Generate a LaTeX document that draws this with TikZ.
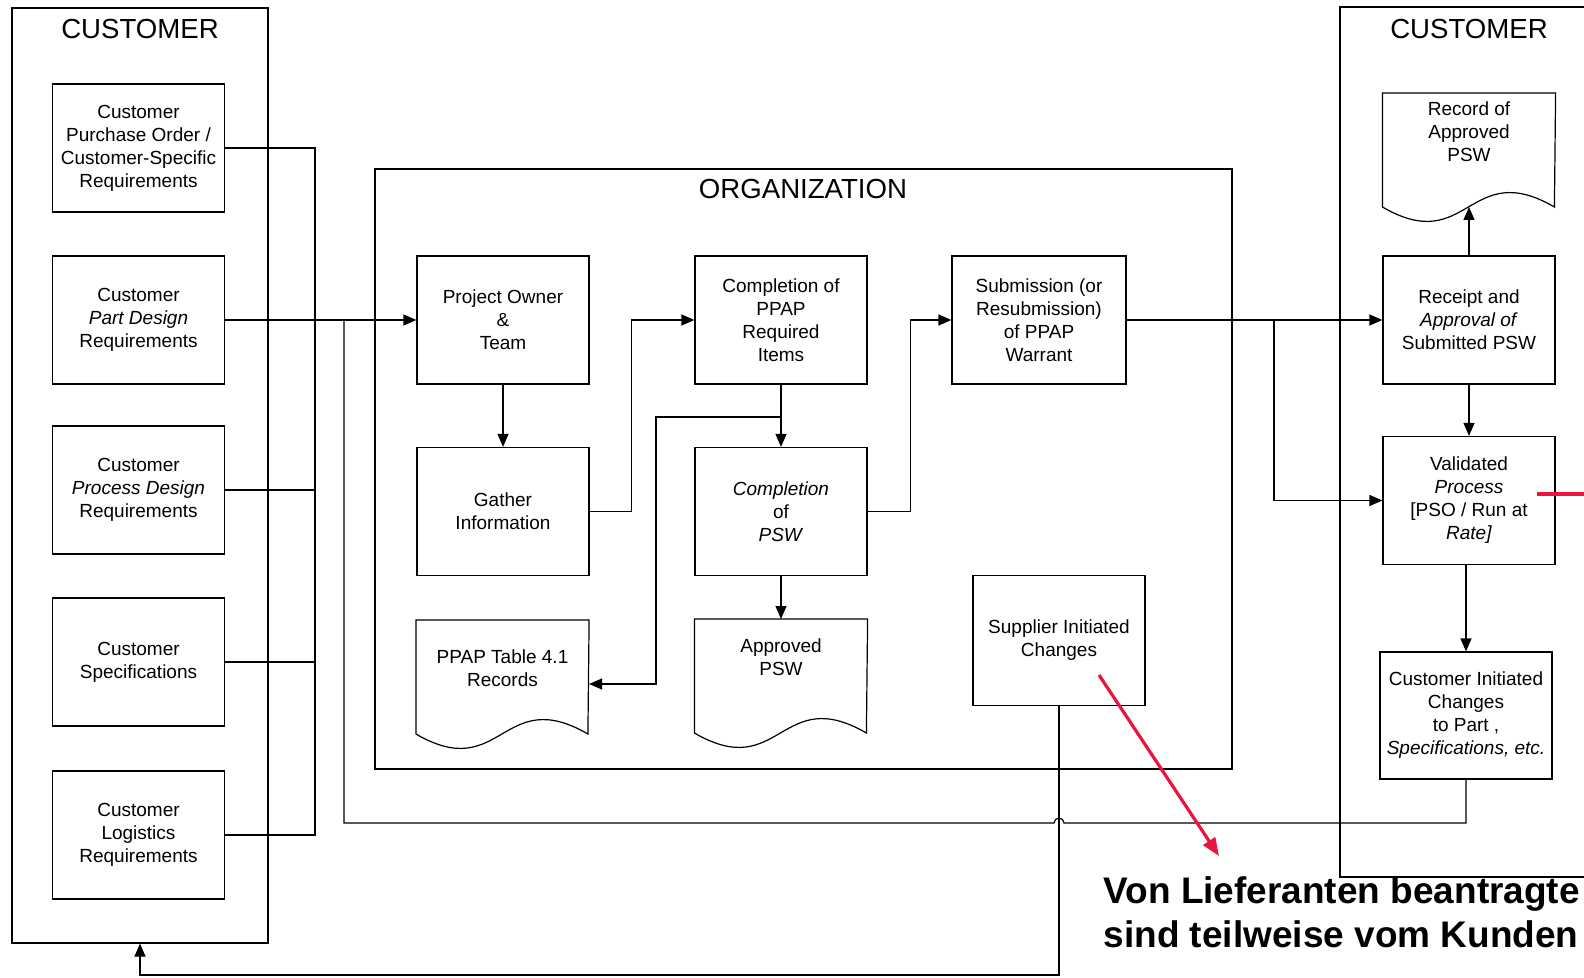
\documentclass[tikz,border=0pt]{standalone}
\usepackage{fontspec}
\setmainfont{Liberation Sans}
\usepackage{xcolor}
\usetikzlibrary{arrows.meta,calc}
\definecolor{kred}{RGB}{235,20,60}
\tikzset{box/.style={rectangle,draw,align=center,inner sep=1pt,minimum width=86pt,minimum height=64pt,font=\fontsize{9.5}{11.5}\selectfont}}
\tikzset{doc/.style={rectangle,align=center,inner sep=1pt,anchor=north,minimum width=86pt,minimum height=38pt,font=\fontsize{9.5}{11.5}\selectfont}}
\tikzset{frame/.style={rectangle,draw,inner sep=0pt}}
\tikzset{head/.style={anchor=base,font=\fontsize{13.8}{16}\selectfont}}
\tikzset{note/.style={anchor=base west,align=left,inner sep=0pt,font=\bfseries\fontsize{18.5}{22}\selectfont}}
\newcommand{\docout}[1]{\draw (#1.north west) -- ++(0,114) coordinate (#1-bl) .. controls +(86,50) and +(-86,-50) .. ++(172,0) -- (#1.north east) -- cycle;}

\begin{document}
\begin{tikzpicture}[x=0.5pt,y=-0.5pt,line width=0.6pt,>={Triangle[length=6.5pt,width=5.5pt]}]
    \useasboundingbox (0,0) rectangle (1584,978);
    \clip (0,0) rectangle (1584,978);

    \node[frame,minimum width=128pt,minimum height=467.5pt] (custL) at (140,475.5) {};
    \node[frame,minimum width=428.5pt,minimum height=300pt] (org) at (803.5,469) {};
    \node[frame,minimum width=130pt,minimum height=435pt] (custR) at (1470,442) {};
    \node[head] (custLt) at (140,39) {CUSTOMER};
    \node[head] (orgt) at (803,199) {ORGANIZATION};
    \node[head] (custRt) at (1469,39) {CUSTOMER};

    \node[box] (po) at (138.5,148) {Customer\\Purchase Order /\\Customer-Specific\\Requirements};
    \node[box] (part) at (138.5,320) {Customer\\\textit{Part Design}\\Requirements};
    \node[box] (proc) at (138.5,490) {Customer\\\textit{Process Design}\\Requirements};
    \node[box] (spec) at (138.5,662) {Customer\\Specifications};
    \node[box] (logi) at (138.5,835) {Customer\\Logistics\\Requirements};

    \node[box] (own) at (503,320) {Project Owner\\\&\\Team};
    \node[box] (gat) at (503,511.5) {Gather\\Information};
    \node[box] (req) at (781,320) {Completion of\\PPAP\\Required\\Items};
    \node[box] (psw) at (781,511.5) {\textit{Completion}\\of\\\textit{PSW}};
    \node[box,minimum width=87pt] (sub) at (1039,320) {Submission (or\\Resubmission)\\of PPAP\\Warrant};
    \node[box,minimum height=65pt] (sic) at (1059,640.5) {Supplier Initiated\\Changes};
    \node[doc,minimum height=48pt] (tab) at (502.5,620) {PPAP Table 4.1\\Records};
    \node[doc] (apr) at (781,619) {Approved\\PSW};
    \docout{tab}
    \docout{apr}

    \node[doc] (rec) at (1469,93) {Record of\\Approved\\PSW};
    \docout{rec}
    \node[box] (rcp) at (1469,320) {Receipt and\\\textit{Approval of}\\Submitted PSW};
    \node[box] (val) at (1469,500.5) {Validated\\\textit{Process}\\{[}PSO / Run at\\\textit{Rate]}};
    \node[box,minimum height=63.5pt] (cic) at (1466,715.5) {Customer Initiated\\Changes\\to Part ,\\\textit{Specifications, etc.}};

    \coordinate (busT) at (315,148);
    \coordinate (busB) at (315,835);
    \draw [] (po.east) -- (busT) -- (busB) -- (logi.east);
    \draw [] (proc.east) -- (proc.east -| busT);
    \draw [] (spec.east) -- (spec.east -| busT);
    \draw [->] (part.east) -- (own.west);
    \draw [->] (own.south) -- (gat.north);
    \draw [->] (gat.east) -- ++(42,0) |- (req.west);
    \draw [->] (req.south) -- (psw.north);
    \coordinate (brk) at (781,417);
    \draw [->] (brk) -- ++(-125,0) |- ($(tab.north east)+(0,64)$);
    \draw [->] (psw.south) -- (apr.north);
    \draw [->] (psw.east) -- ++(43,0) |- (sub.west);
    \draw [->] (sub.east) -- (rcp.west);
    \coordinate (brr) at (1274,320);
    \draw [->] (brr) |- (val.west);
    \draw [->] (rcp.north) -- (rec-bl -| rec.north);
    \draw [->] (rcp.south) -- (val.north);
    \draw [->] (val.south -| cic.north) -- (cic.north);

    \coordinate (hop) at (1064,823);
    \coordinate (fb) at (344,823);
    \draw [] (cic.south) |- (hop) arc[start angle=0,end angle=180,radius=2.5pt] -- (fb) -- (fb |- part.east);
    \coordinate (bot) at (1059,975);
    \draw [->] (sic.south) -- (bot) -| (custL.south);

    \coordinate (rs) at (1099,675);
    \coordinate (re) at (1219,856);
    \draw [kred,line width=1.6pt,-{Triangle[length=9pt,width=7pt]}] (rs) -- (re);
    \coordinate (rl) at (1537,494);
    \coordinate (rr) at (1600,494);
    \draw [kred,line width=2.4pt] (rl) -- (rr);
    \node[note] (vermerk) at (1103,947) {Von Lieferanten beantragte\\sind teilweise vom Kunden};
\end{tikzpicture}
\end{document}
